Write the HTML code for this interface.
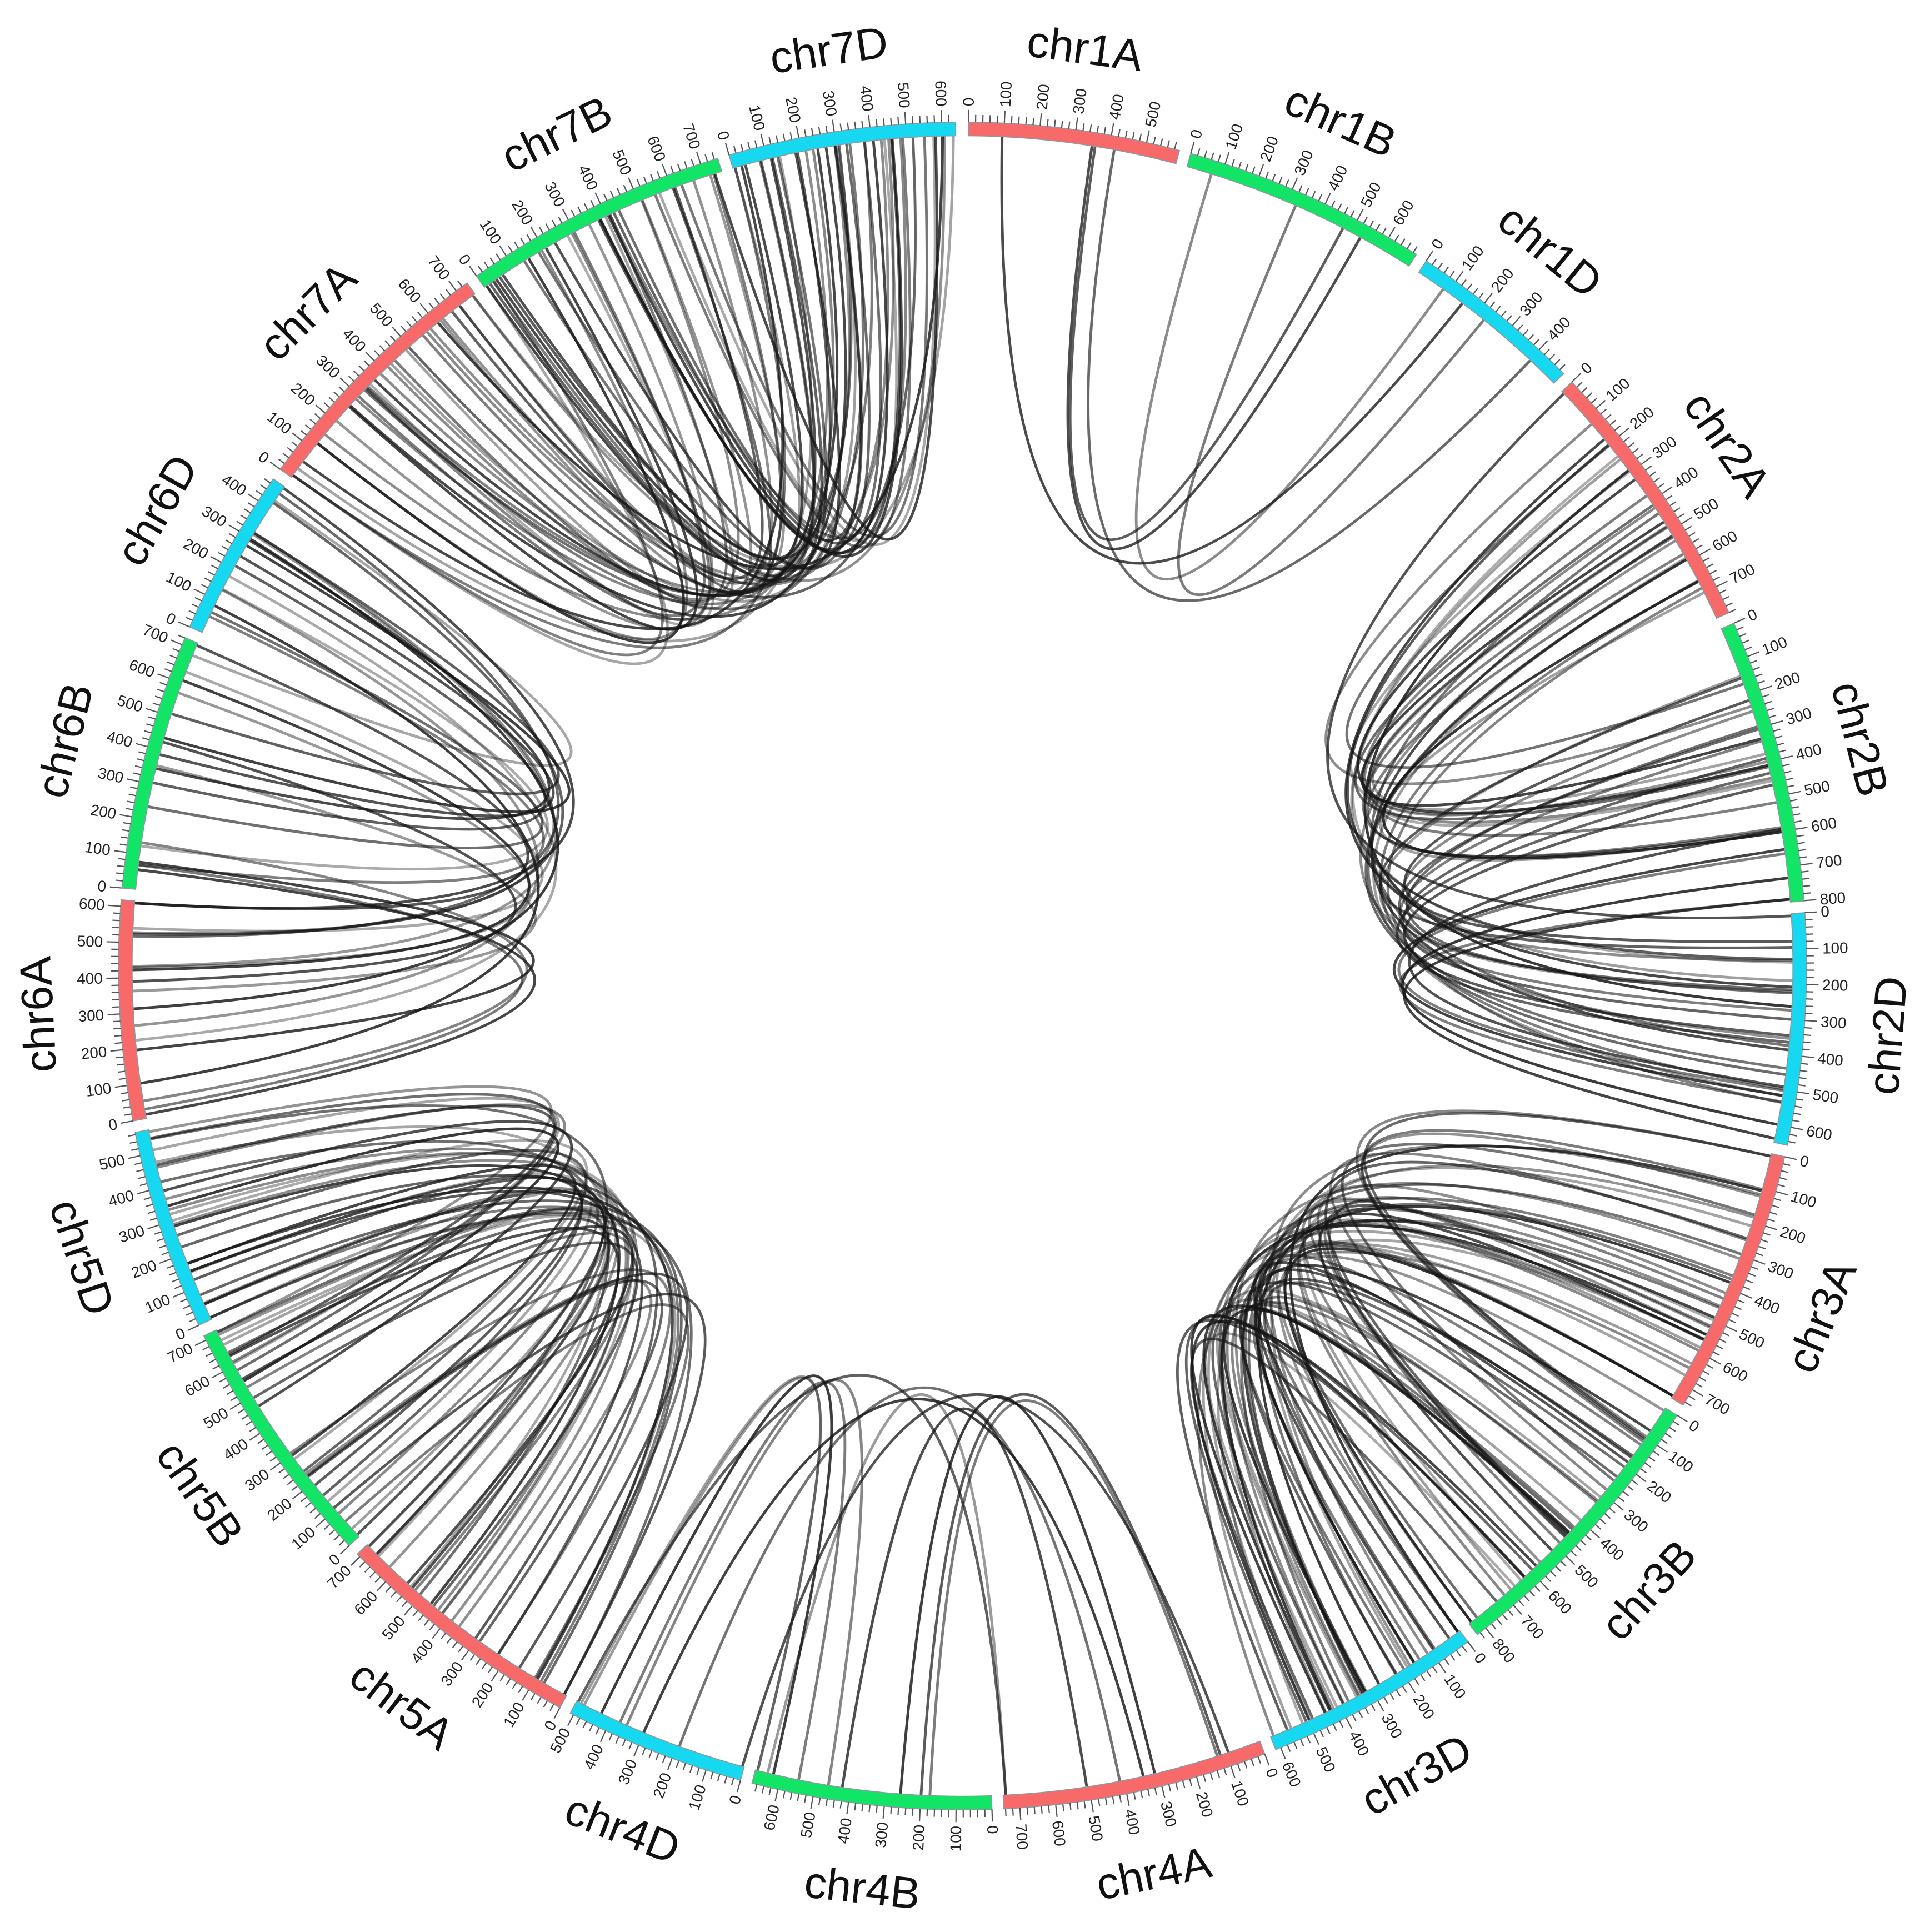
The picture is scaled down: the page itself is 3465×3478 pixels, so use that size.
<!DOCTYPE html>
<html><head><meta charset="utf-8"><style>
html,body{margin:0;padding:0;background:#fff}
svg{display:block}
.t{font-family:"Liberation Sans",sans-serif;font-size:12.5px;fill:#222;dominant-baseline:central}
.r text{text-anchor:start}.l text{text-anchor:end}
.c{font-family:"Liberation Sans",sans-serif;font-size:36px;fill:#111;text-anchor:middle}
</style></head><body>
<svg id="s" width="3465" height="3478" viewBox="0 0 1560 1566" xmlns="http://www.w3.org/2000/svg">
<rect width="1560" height="1566" fill="#fff"/>
<g id="links" fill="none" stroke="#151515" stroke-width="2.2" stroke-linecap="round"></g>
<g id="bars"></g>
<g id="ticks" stroke="#555" stroke-width="1"></g>
<g class="t">
<g class="r" transform="translate(780 783) rotate(-89.6)"><text x="697">0</text><text x="697" transform="rotate(2.44)">100</text><text x="697" transform="rotate(4.88)">200</text><text x="697" transform="rotate(7.32)">300</text><text x="697" transform="rotate(9.76)">400</text><text x="697" transform="rotate(12.2)">500</text></g>
<g class="r" transform="translate(780 783) rotate(-74.31)"><text x="697">0</text><text x="697" transform="rotate(2.44)">100</text><text x="697" transform="rotate(4.88)">200</text><text x="697" transform="rotate(7.32)">300</text><text x="697" transform="rotate(9.76)">400</text><text x="697" transform="rotate(12.2)">500</text><text x="697" transform="rotate(14.64)">600</text></g>
<g class="r" transform="translate(780 783) rotate(-56.67)"><text x="697">0</text><text x="697" transform="rotate(2.44)">100</text><text x="697" transform="rotate(4.88)">200</text><text x="697" transform="rotate(7.32)">300</text><text x="697" transform="rotate(9.76)">400</text></g>
<g class="r" transform="translate(780 783) rotate(-43.79)"><text x="697">0</text><text x="697" transform="rotate(2.44)">100</text><text x="697" transform="rotate(4.88)">200</text><text x="697" transform="rotate(7.32)">300</text><text x="697" transform="rotate(9.76)">400</text><text x="697" transform="rotate(12.2)">500</text><text x="697" transform="rotate(14.64)">600</text><text x="697" transform="rotate(17.08)">700</text></g>
<g class="r" transform="translate(780 783) rotate(-23.96)"><text x="697">0</text><text x="697" transform="rotate(2.44)">100</text><text x="697" transform="rotate(4.88)">200</text><text x="697" transform="rotate(7.32)">300</text><text x="697" transform="rotate(9.76)">400</text><text x="697" transform="rotate(12.2)">500</text><text x="697" transform="rotate(14.64)">600</text><text x="697" transform="rotate(17.08)">700</text><text x="697" transform="rotate(19.52)">800</text></g>
<g class="r" transform="translate(780 783) rotate(-3.62)"><text x="697">0</text><text x="697" transform="rotate(2.44)">100</text><text x="697" transform="rotate(4.88)">200</text><text x="697" transform="rotate(7.32)">300</text><text x="697" transform="rotate(9.76)">400</text><text x="697" transform="rotate(12.2)">500</text><text x="697" transform="rotate(14.64)">600</text></g>
<g class="r" transform="translate(780 783) rotate(13.06)"><text x="697">0</text><text x="697" transform="rotate(2.44)">100</text><text x="697" transform="rotate(4.88)">200</text><text x="697" transform="rotate(7.32)">300</text><text x="697" transform="rotate(9.76)">400</text><text x="697" transform="rotate(12.2)">500</text><text x="697" transform="rotate(14.64)">600</text><text x="697" transform="rotate(17.08)">700</text></g>
<g class="r" transform="translate(780 783) rotate(32.16)"><text x="697">0</text><text x="697" transform="rotate(2.44)">100</text><text x="697" transform="rotate(4.88)">200</text><text x="697" transform="rotate(7.32)">300</text><text x="697" transform="rotate(9.76)">400</text><text x="697" transform="rotate(12.2)">500</text><text x="697" transform="rotate(14.64)">600</text><text x="697" transform="rotate(17.08)">700</text><text x="697" transform="rotate(19.52)">800</text></g>
<g class="r" transform="translate(780 783) rotate(53.21)"><text x="697">0</text><text x="697" transform="rotate(2.44)">100</text><text x="697" transform="rotate(4.88)">200</text><text x="697" transform="rotate(7.32)">300</text><text x="697" transform="rotate(9.76)">400</text><text x="697" transform="rotate(12.2)">500</text><text x="697" transform="rotate(14.64)">600</text></g>
<g class="r" transform="translate(780 783) rotate(69.02)"><text x="697">0</text><text x="697" transform="rotate(2.44)">100</text><text x="697" transform="rotate(4.88)">200</text><text x="697" transform="rotate(7.32)">300</text><text x="697" transform="rotate(9.76)">400</text><text x="697" transform="rotate(12.2)">500</text><text x="697" transform="rotate(14.64)">600</text><text x="697" transform="rotate(17.08)">700</text></g>
<g class="l" transform="translate(780 783) rotate(-92)"><text x="-697">0</text><text x="-697" transform="rotate(2.44)">100</text><text x="-697" transform="rotate(4.88)">200</text><text x="-697" transform="rotate(7.32)">300</text><text x="-697" transform="rotate(9.76)">400</text><text x="-697" transform="rotate(12.2)">500</text><text x="-697" transform="rotate(14.64)">600</text></g>
<g class="l" transform="translate(780 783) rotate(-74.75)"><text x="-697">0</text><text x="-697" transform="rotate(2.44)">100</text><text x="-697" transform="rotate(4.88)">200</text><text x="-697" transform="rotate(7.32)">300</text><text x="-697" transform="rotate(9.76)">400</text><text x="-697" transform="rotate(12.2)">500</text></g>
<g class="l" transform="translate(780 783) rotate(-61.51)"><text x="-697">0</text><text x="-697" transform="rotate(2.44)">100</text><text x="-697" transform="rotate(4.88)">200</text><text x="-697" transform="rotate(7.32)">300</text><text x="-697" transform="rotate(9.76)">400</text><text x="-697" transform="rotate(12.2)">500</text><text x="-697" transform="rotate(14.64)">600</text><text x="-697" transform="rotate(17.08)">700</text></g>
<g class="l" transform="translate(780 783) rotate(-43.39)"><text x="-697">0</text><text x="-697" transform="rotate(2.44)">100</text><text x="-697" transform="rotate(4.88)">200</text><text x="-697" transform="rotate(7.32)">300</text><text x="-697" transform="rotate(9.76)">400</text><text x="-697" transform="rotate(12.2)">500</text><text x="-697" transform="rotate(14.64)">600</text><text x="-697" transform="rotate(17.08)">700</text></g>
<g class="l" transform="translate(780 783) rotate(-25.19)"><text x="-697">0</text><text x="-697" transform="rotate(2.44)">100</text><text x="-697" transform="rotate(4.88)">200</text><text x="-697" transform="rotate(7.32)">300</text><text x="-697" transform="rotate(9.76)">400</text><text x="-697" transform="rotate(12.2)">500</text></g>
<g class="l" transform="translate(780 783) rotate(-10.58)"><text x="-697">0</text><text x="-697" transform="rotate(2.44)">100</text><text x="-697" transform="rotate(4.88)">200</text><text x="-697" transform="rotate(7.32)">300</text><text x="-697" transform="rotate(9.76)">400</text><text x="-697" transform="rotate(12.2)">500</text><text x="-697" transform="rotate(14.64)">600</text></g>
<g class="l" transform="translate(780 783) rotate(5.3)"><text x="-697">0</text><text x="-697" transform="rotate(2.44)">100</text><text x="-697" transform="rotate(4.88)">200</text><text x="-697" transform="rotate(7.32)">300</text><text x="-697" transform="rotate(9.76)">400</text><text x="-697" transform="rotate(12.2)">500</text><text x="-697" transform="rotate(14.64)">600</text><text x="-697" transform="rotate(17.08)">700</text></g>
<g class="l" transform="translate(780 783) rotate(23.69)"><text x="-697">0</text><text x="-697" transform="rotate(2.44)">100</text><text x="-697" transform="rotate(4.88)">200</text><text x="-697" transform="rotate(7.32)">300</text><text x="-697" transform="rotate(9.76)">400</text></g>
<g class="l" transform="translate(780 783) rotate(36.06)"><text x="-697">0</text><text x="-697" transform="rotate(2.44)">100</text><text x="-697" transform="rotate(4.88)">200</text><text x="-697" transform="rotate(7.32)">300</text><text x="-697" transform="rotate(9.76)">400</text><text x="-697" transform="rotate(12.2)">500</text><text x="-697" transform="rotate(14.64)">600</text><text x="-697" transform="rotate(17.08)">700</text></g>
<g class="l" transform="translate(780 783) rotate(54.84)"><text x="-697">0</text><text x="-697" transform="rotate(2.44)">100</text><text x="-697" transform="rotate(4.88)">200</text><text x="-697" transform="rotate(7.32)">300</text><text x="-697" transform="rotate(9.76)">400</text><text x="-697" transform="rotate(12.2)">500</text><text x="-697" transform="rotate(14.64)">600</text><text x="-697" transform="rotate(17.08)">700</text></g>
<g class="l" transform="translate(780 783) rotate(73.94)"><text x="-697">0</text><text x="-697" transform="rotate(2.44)">100</text><text x="-697" transform="rotate(4.88)">200</text><text x="-697" transform="rotate(7.32)">300</text><text x="-697" transform="rotate(9.76)">400</text><text x="-697" transform="rotate(12.2)">500</text><text x="-697" transform="rotate(14.64)">600</text></g>
</g>
<g transform="translate(780 783)">
<text class="c" y="-738" transform="rotate(7.6)">chr1A</text>
<text class="c" y="-738" transform="rotate(24.1)">chr1B</text>
<text class="c" y="-738" transform="rotate(39.4)">chr1D</text>
<text class="c" y="-738" transform="rotate(55.7)">chr2A</text>
<text class="c" y="-738" transform="rotate(75.8)">chr2B</text>
<text class="c" y="764" transform="rotate(-85.7)">chr2D</text>
<text class="c" y="764" transform="rotate(-67.8)">chr3A</text>
<text class="c" y="764" transform="rotate(-47.7)">chr3B</text>
<text class="c" y="764" transform="rotate(-29.3)">chr3D</text>
<text class="c" y="764" transform="rotate(-11.9)">chr4A</text>
<text class="c" y="764" transform="rotate(6.2)">chr4B</text>
<text class="c" y="764" transform="rotate(21.5)">chr4D</text>
<text class="c" y="764" transform="rotate(37.2)">chr5A</text>
<text class="c" y="764" transform="rotate(55.3)">chr5B</text>
<text class="c" y="764" transform="rotate(71.7)">chr5D</text>
<text class="c" y="-738" transform="rotate(-93)">chr6A</text>
<text class="c" y="-738" transform="rotate(-75.9)">chr6B</text>
<text class="c" y="-738" transform="rotate(-60.5)">chr6D</text>
<text class="c" y="-738" transform="rotate(-45)">chr7A</text>
<text class="c" y="-738" transform="rotate(-26)">chr7B</text>
<text class="c" y="-738" transform="rotate(-8.3)">chr7D</text>
</g>
</svg>
<script>
(function(){
var NS="http://www.w3.org/2000/svg",cx=780,cy=783,k=0.0244,RI=673,RO=684;
var C=[[0.4,594,0],[15.69,690,1],[33.33,495,2],[46.21,780,0],[66.04,801,1],[86.38,651,2],[103.06,750,0],[122.16,830,1],[143.21,615,2],[159.02,745,0],[178.0,674,1],[195.25,510,2],[208.49,710,0],[226.61,713,1],[244.81,566,2],[259.42,618,0],[275.30,721,1],[293.69,474,2],[306.06,737,0],[324.84,750,1],[343.94,639,2]];
var col=["#f86a69","#12e466","#16d8f0"];
function P(a,r){var t=a*Math.PI/180;return [cx+r*Math.sin(t),cy-r*Math.cos(t)];}
function f(p){return p[0].toFixed(2)+" "+p[1].toFixed(2);}
var bars=document.getElementById("bars"),ticks=document.getElementById("ticks"),links=document.getElementById("links");
C.forEach(function(c){
 var s=c[0],e=c[0]+c[1]*k;
 var d="M"+f(P(s,RO))+" A"+RO+" "+RO+" 0 0 1 "+f(P(e,RO))+" L"+f(P(e,RI))+" A"+RI+" "+RI+" 0 0 0 "+f(P(s,RI))+"Z";
 var p=document.createElementNS(NS,"path");p.setAttribute("d",d);p.setAttribute("fill",col[c[2]]);p.setAttribute("stroke","#8a9aa0");p.setAttribute("stroke-width","0.8");bars.appendChild(p);
 var td="";
 for(var v=0;v<=c[1];v+=20){var a=s+v*k;var L=(v%100===0)?694:690;td+="M"+f(P(a,RO))+"L"+f(P(a,L));}
 var q=document.createElementNS(NS,"path");q.setAttribute("d",td);ticks.appendChild(q);
});
var seed=12345;function rnd(){seed=(seed*1103515245+12345)%2147483648;return seed/2147483648;}
var counts=[[2,2,2],[15,14,16],[19,19,22],[5,4,5],[15,15,16],[10,9,9],[18,18,22]];
counts.forEach(function(cn,g){
 var A=g*3,B=g*3+1,D=g*3+2;var pairs=[[A,B],[A,D],[B,D]];
 pairs.forEach(function(pr,i){
  for(var n=0;n<cn[i];n++){
   var p=rnd();var p1=Math.min(0.99,Math.max(0.01,p+(rnd()-0.5)*0.25)),p2=Math.min(0.99,Math.max(0.01,p+(rnd()-0.5)*0.25));
   var c1=C[pr[0]],c2=C[pr[1]];
   var a1=c1[0]+p1*c1[1]*k,a2=c2[0]+p2*c2[1]*k;
   var am=(a1+a2)/2;
   var ctl=P(am,25+rnd()*40);
   var path=document.createElementNS(NS,"path");
   path.setAttribute("d","M"+f(P(a1,RI))+" Q"+f(ctl)+" "+f(P(a2,RI)));
   path.setAttribute("stroke-opacity",(0.35+rnd()*0.5).toFixed(2));
   links.appendChild(path);
  }
 });
});
})();
</script>
</body></html>
